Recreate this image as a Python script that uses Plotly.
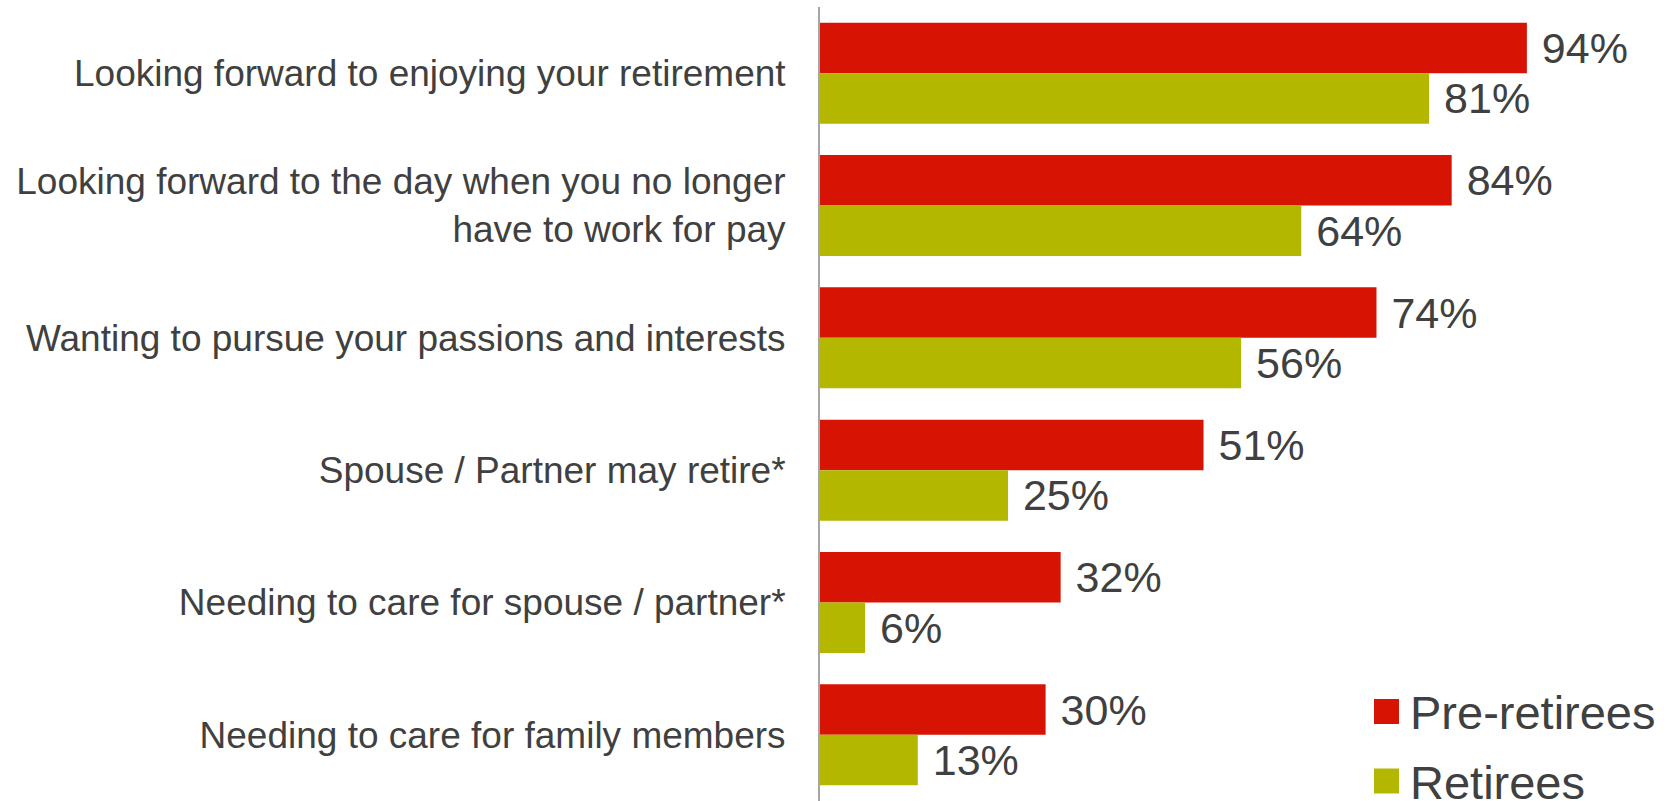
import plotly.graph_objects as go

categories = [
    "Looking forward to enjoying your retirement",
    "Looking forward to the day when you no longer<br>have to work for pay",
    "Wanting to pursue your passions and interests",
    "Spouse / Partner may retire*",
    "Needing to care for spouse / partner*",
    "Needing to care for family members",
]
pre_retirees = [94, 84, 74, 51, 32, 30]
retirees = [81, 64, 56, 25, 6, 13]
series_names = ["Pre-retirees", "Retirees"]
colors = ["#D71403", "#B3B700"]

W, H = 1677, 801
ML, MR, MT, MB = 820, 105, 7, 0
FONT = "Liberation Sans, Arial, sans-serif"
TXT = "#404040"

fig = go.Figure()
for name, vals, col in zip(series_names, [pre_retirees, retirees], colors):
    fig.add_trace(go.Bar(
        y=categories, x=vals, orientation="h", name=name,
        marker=dict(color=col, line=dict(width=0)),
        text=[f"\u00a0{v}%" for v in vals],
        textposition="outside", constraintext="none", cliponaxis=False,
        textfont=dict(family=FONT, size=43, color=TXT),
        showlegend=False, hoverinfo="skip",
    ))

pw = W - ML - MR
ph = H - MT - MB
def px(x):
    return (x - ML) / pw
def py(y):
    return (H - MB - y) / ph

# manual legend (large swatches as in the reference)
legend_rows = [(711.5, series_names[0], colors[0]), (781.0, series_names[1], colors[1])]
for yc, name, col in legend_rows:
    fig.add_shape(type="rect", xref="paper", yref="paper",
                  x0=px(1374), x1=px(1399), y0=py(yc + 12.5), y1=py(yc - 12.5),
                  fillcolor=col, line=dict(width=0), layer="above")
    fig.add_annotation(xref="paper", yref="paper", x=px(1408), y=py(yc + 1),
                       text=name, showarrow=False, xanchor="left", yanchor="middle",
                       font=dict(family=FONT, size=47, color=TXT))

fig.update_layout(
    width=W, height=H,
    margin=dict(l=ML, r=MR, t=MT, b=MB, pad=0),
    paper_bgcolor="white", plot_bgcolor="white",
    barmode="group", bargap=0.237, bargroupgap=0,
    font=dict(family=FONT, color=TXT),
    showlegend=False,
)
fig.update_xaxes(range=[0, 100], visible=False, showgrid=False, zeroline=False)
fig.update_yaxes(autorange="reversed", showgrid=False, zeroline=False,
                 showline=True, linecolor="#A6A6A6", linewidth=2,
                 ticks="", ticklabelstandoff=25,
                 tickfont=dict(family=FONT, size=37, color=TXT))

fig.write_html(
    "out.html",
    config={"displayModeBar": False},
    post_script="document.body.style.margin='0';document.body.style.overflow='hidden';",
)
